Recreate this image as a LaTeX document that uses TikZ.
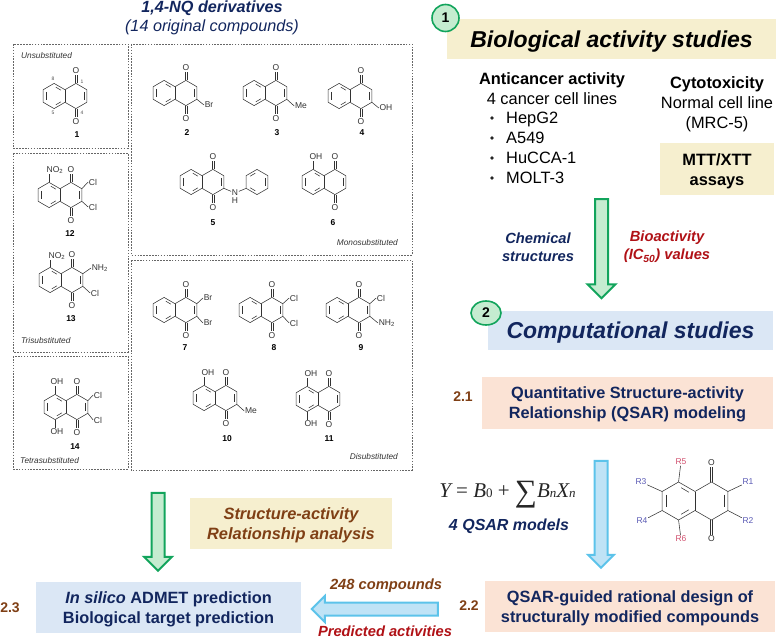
\documentclass[tikz,border=0pt]{standalone}
\usepackage{fontspec}
\setmainfont{Liberation Sans}
\newfontfamily\eqnfont{Liberation Serif}
\usetikzlibrary{positioning,shapes.arrows,shapes.geometric}
\definecolor{navytxt}{HTML}{12265E}
\definecolor{browntxt}{HTML}{7F3F15}
\definecolor{redtxt}{HTML}{B01116}
\definecolor{yellowbg}{HTML}{F6EFCF}
\definecolor{bluebg}{HTML}{DBE7F5}
\definecolor{peachbg}{HTML}{FBE3D5}
\definecolor{greenline}{HTML}{12A45C}
\definecolor{greenfill}{HTML}{C5ECD0}
\definecolor{blueline}{HTML}{5CC3EA}
\definecolor{bluefill}{HTML}{BFE3F6}
\definecolor{rblue}{HTML}{5A5AB4}
\definecolor{rpink}{HTML}{D0506E}
\newcommand{\nqbond}{12.6pt}
\newcommand{\eqnsub}[1]{{\fontsize{13}{14}\selectfont #1}}
\tikzset{
    bond/.style={draw=black!80, line width=0.55pt, line join=round},
    atom/.style={inner sep=0.6pt, text=black!80, font=\fontsize{8.5}{10}\selectfont},
    cpd/.style={inner sep=0pt, font=\fontsize{8.5}{10}\selectfont\bfseries},
    numlabel/.style={inner sep=0pt, text=black!70, font=\fontsize{5}{6}\selectfont},
    grouptag/.style={inner sep=0pt, text=black!80, font=\fontsize{8.3}{10}\selectfont\itshape},
    groupbox/.style={draw=black!60, line width=0.45pt, dash pattern=on 1.6pt off 1.3pt},
    plainbox/.style={inner sep=0pt, align=center},
    filledbox/.style={plainbox, text depth=-2pt},
    filledpair/.style={plainbox, text depth=-4pt},
    head/.style={text=navytxt, font=\fontsize{16.3}{20}\selectfont\bfseries},
    bodyline/.style={inner sep=0pt, text height=12pt, text depth=0pt, font=\fontsize{16.4}{20}\selectfont},
    bignum/.style={inner sep=0pt, text=browntxt, font=\fontsize{14}{16}\selectfont\bfseries},
    flowtag/.style={plainbox, font=\fontsize{14.7}{18}\selectfont\bfseries\itshape},
    stepmark/.style={draw=greenline, fill=greenfill, line width=1.6pt, inner sep=0pt,
        font=\fontsize{14}{16}\selectfont\bfseries},
    greenarrow/.style={single arrow, draw=greenline, fill=greenfill, line width=2pt, inner sep=0pt,
        inner ysep=5.5pt, single arrow head extend=7.5pt, minimum width=25pt},
    bluearrow/.style={single arrow, draw=blueline, fill=bluefill, line width=2pt, inner sep=0pt,
        inner ysep=5.5pt, single arrow head extend=6.5pt, minimum width=24pt},
    nqring/.pic={
        \begin{scope}[x=\nqbond, y=-\nqbond]
            \coordinate (-c2) at (1.732,-0.5);
            \coordinate (-c3) at (1.732,0.5);
            \coordinate (-c5) at (-0.866,1);
            \coordinate (-c6) at (-1.732,0.5);
            \coordinate (-c7) at (-1.732,-0.5);
            \coordinate (-c8) at (-0.866,-1);
            \draw[bond] (0,-0.5) -- (0.866,-1) -- (-c2) -- (-c3) -- (0.866,1) -- (0,0.5) -- (-c5) -- (-c6) -- (-c7) -- (-c8) -- cycle;
            \draw[bond] (0,-0.5) -- (0,0.5);
            % inner lines of the double bonds
            \draw[bond] (1.52,-0.33) -- (1.52,0.33);
            \draw[bond] (-1.52,-0.33) -- (-1.52,0.33);
            \draw[bond] (-0.73,-0.70) -- (-0.32,-0.46);
            \draw[bond] (-0.73,0.70) -- (-0.32,0.46);
            \node (-otop) [atom] at (0.866,-2) {O};
            \node (-obot) [atom] at (0.866,2) {O};
            \draw[bond] ([xshift=-1.1pt]0.866,-1) -- ([xshift=-1.1pt]-otop.south);
            \draw[bond] ([xshift=1.1pt]0.866,-1) -- ([xshift=1.1pt]-otop.south);
            \draw[bond] ([xshift=-1.1pt]0.866,1) -- ([xshift=-1.1pt]-obot.north);
            \draw[bond] ([xshift=1.1pt]0.866,1) -- ([xshift=1.1pt]-obot.north);
        \end{scope}
    }
}
\begin{document}
\begin{tikzpicture}[x=1pt, y=-1pt, node distance=19.8pt]
    \useasboundingbox (0,0) rectangle (776,639);

    % left column title
    \node (nqtitle) [plainbox, head, font=\fontsize{16.2}{20}\selectfont\bfseries\itshape] at (212,8.5) {1,4-NQ derivatives};
    \node (nqsub) [plainbox, head, font=\fontsize{16.2}{20}\selectfont\itshape] at (212,27) {(14 original compounds)};

    % compound groups
    \draw[groupbox] (13,44) rectangle (128,148);
    \draw[groupbox] (13,153) rectangle (128,352);
    \draw[groupbox] (13,356) rectangle (128,469);
    \draw[groupbox] (131,44) rectangle (412,255);
    \draw[groupbox] (131,260) rectangle (412,470);
    \node (tagun) [grouptag, anchor=west] at (21,56) {Unsubstituted};
    \node (tagtri) [grouptag, anchor=west] at (21,341) {Trisubstituted};
    \node (tagtetra) [grouptag, anchor=west] at (20,461) {Tetrasubstituted};
    \node (tagmono) [grouptag, anchor=east] at (398,243) {Monosubstituted};
    \node (tagdi) [grouptag, anchor=east] at (398,457) {Disubstituted};

    % 1
    \pic (m1) at (65,96) {nqring};
    \node (n8) [numlabel] at (53,79) {8};
    \node (n1) [numlabel] at (82,82) {1};
    \node (n5) [numlabel] at (53,113) {5};
    \node (n4) [numlabel] at (82,113) {4};
    \node (c1) [cpd] at (77,135) {1};

    % 2
    \pic (m2) at (175,93) {nqring};
    \node (m2br) [atom] at (209,105) {Br};
    \draw[bond] (m2-c3) -- (m2br.west);
    \node (c2) [cpd] at (187,133) {2};

    % 3
    \pic (m3) at (265,93) {nqring};
    \node (m3me) [atom] at (301,106) {Me};
    \draw[bond] (m3-c3) -- (m3me.west);
    \node (c3) [cpd] at (277,133) {3};

    % 4
    \pic (m4) at (350,96) {nqring};
    \node (m4oh) [atom] at (386,108) {OH};
    \draw[bond] (m4-c3) -- (m4oh.west);
    \node (c4) [cpd] at (362,133) {4};

    % 5
    \pic (m5) at (202,182) {nqring};
    \node (m5n) [atom] at (235,193) {N};
    \node (m5h) [atom, below=0.5pt of m5n] {H};
    \node (m5ph) [regular polygon, regular polygon sides=6, shape border rotate=30, minimum size=25.2pt, inner sep=0pt, bond] at (257,182) {};
    \draw[bond] (m5-c3) -- (m5n);
    \draw[bond] (m5ph.210) -- (m5n);
    \draw[bond] (250.1,176.2) -- (255.3,173.2);
    \draw[bond] (265.2,178) -- (265.2,186);
    \draw[bond] (250.1,187.8) -- (255.3,190.8);
    \node (c5) [cpd] at (213,223) {5};

    % 6
    \pic (m6) at (324,182) {nqring};
    \node (m6oh) [atom] at (316,157) {OH};
    \draw[bond] (m6-c8) -- (m6oh.south -| m6-c8);
    \node (c6) [cpd] at (333,223) {6};

    % 7
    \pic (m7) at (175,310) {nqring};
    \node (m7a) [atom] at (208,298) {Br};
    \node (m7b) [atom] at (208,323) {Br};
    \draw[bond] (m7-c2) -- (m7a.west);
    \draw[bond] (m7-c3) -- (m7b.west);
    \node (c7) [cpd] at (185,348) {7};

    % 8
    \pic (m8) at (261,310) {nqring};
    \node (m8a) [atom] at (294,298) {Cl};
    \node (m8b) [atom] at (294,323) {Cl};
    \draw[bond] (m8-c2) -- (m8a.west);
    \draw[bond] (m8-c3) -- (m8b.west);
    \node (c8) [cpd] at (274,348) {8};

    % 9
    \pic (m9) at (348,310) {nqring};
    \node (m9a) [atom] at (381,298) {Cl};
    \node (m9b) [atom, anchor=west] at (378,323) {NH\textsubscript{2}};
    \draw[bond] (m9-c2) -- (m9a.west);
    \draw[bond] (m9-c3) -- (m9b.west);
    \node (c9) [cpd] at (361,348) {9};

    % 10
    \pic (m10) at (215,398) {nqring};
    \node (m10oh) [atom] at (208,373) {OH};
    \node (m10me) [atom] at (251,411) {Me};
    \draw[bond] (m10-c8) -- (m10oh.south -| m10-c8);
    \draw[bond] (m10-c3) -- (m10me.west);
    \node (c10) [cpd] at (227,439) {10};

    % 11
    \pic (m11) at (318,399) {nqring};
    \node (m11a) [atom] at (311,374) {OH};
    \node (m11b) [atom] at (311,424) {OH};
    \draw[bond] (m11-c8) -- (m11a.south -| m11-c8);
    \draw[bond] (m11-c5) -- (m11b.north -| m11-c5);
    \node (c11) [cpd] at (329,439) {11};

    % 12
    \pic (m12) at (60,195) {nqring};
    \node (m12no) [atom] at (55,170) {NO\textsubscript{2}};
    \node (m12a) [atom] at (93,182) {Cl};
    \node (m12b) [atom] at (93,207) {Cl};
    \draw[bond] (m12-c8) -- (m12no.south -| m12-c8);
    \draw[bond] (m12-c2) -- (m12a.west);
    \draw[bond] (m12-c3) -- (m12b.west);
    \node (c12) [cpd] at (70,234) {12};

    % 13
    \pic (m13) at (61,280) {nqring};
    \node (m13no) [atom] at (57,256) {NO\textsubscript{2}};
    \node (m13a) [atom, anchor=west] at (91,268) {NH\textsubscript{2}};
    \node (m13b) [atom] at (95,293) {Cl};
    \draw[bond] (m13-c8) -- (m13no.south -| m13-c8);
    \draw[bond] (m13-c2) -- (m13a.west);
    \draw[bond] (m13-c3) -- (m13b.west);
    \node (c13) [cpd] at (71,319) {13};

    % 14
    \pic (m14) at (66,407) {nqring};
    \node (m14a) [atom] at (57,382) {OH};
    \node (m14b) [atom] at (57,432) {OH};
    \node (m14c) [atom] at (98,395) {Cl};
    \node (m14d) [atom] at (98,420) {Cl};
    \draw[bond] (m14-c8) -- (m14a.south -| m14-c8);
    \draw[bond] (m14-c5) -- (m14b.north -| m14-c5);
    \draw[bond] (m14-c2) -- (m14c.west);
    \draw[bond] (m14-c3) -- (m14d.west);
    \node (c14) [cpd] at (75,447) {14};

    % section 1
    \node (bio) [filledbox, fill=yellowbg, minimum width=329pt, minimum height=40pt,
        font=\fontsize{23}{26}\selectfont\bfseries\itshape] at (611.5,39) {Biological activity studies};
    \node (mark1) [stepmark, circle, minimum size=27pt] at (445.5,18) {1};

    \node (anti) [bodyline, font=\fontsize{16.4}{20}\selectfont\bfseries] at (552,79) {Anticancer activity};
    \node (lines) [bodyline, below of=anti] {4 cancer cell lines};
    \node (hep) [bodyline, anchor=west] at (506,118) {HepG2};
    \node (a549) [bodyline, anchor=west] at (506,138) {A549};
    \node (hucca) [bodyline, anchor=west] at (506,158) {HuCCA-1};
    \node (molt) [bodyline, anchor=west] at (506,178) {MOLT-3};
    \foreach \row/\rowy in {hep/118,a549/138,hucca/158,molt/178}
        \node (dot\row) [circle, fill=black!85, inner sep=0pt, minimum size=3.6pt] at (492,\rowy) {};

    \node (cyto) [bodyline, font=\fontsize{16.4}{20}\selectfont\bfseries] at (717,83) {Cytotoxicity};
    \node (normal) [bodyline, below of=cyto] {Normal cell line};
    \node (mrc) [bodyline, below of=normal] {(MRC-5)};
    \node (mtt) [filledpair, font=\fontsize{16.4}{20}\selectfont\bfseries, fill=yellowbg, minimum width=114pt, minimum height=52pt] at (717,169.5) {MTT/XTT\\assays};

    \node (arrowbio) [greenarrow, rotate=-90, minimum height=99pt] at (601.5,245.5) {};
    \node (chem) [flowtag, text=navytxt] at (538,247) {Chemical\\structures};
    \node (bioact) [flowtag, text=redtxt] at (667,247) {Bioactivity\\(IC\textsubscript{50}) values};

    % section 2
    \node (comp) [filledbox, fill=bluebg, minimum width=285pt, minimum height=39pt, text=navytxt,
        font=\fontsize{23}{26}\selectfont\bfseries\itshape] at (630.5,330.5) {Computational studies};
    \node (mark2) [stepmark, ellipse, minimum width=30pt, minimum height=24pt] at (486,313) {2};

    \node (qsar) [filledpair, head, fill=peachbg, minimum width=291pt, minimum height=52pt] at (627.5,403) {Quantitative Structure-activity\\Relationship (QSAR) modeling};
    \node (num21) [bignum] at (463,397) {2.1};

    \node (eqn) [inner sep=0pt, text=black!85, font=\fontsize{21}{24}\selectfont\eqnfont] at (507.5,494.5) {{\itshape Y} = {\itshape B}\eqnsub{0} + \raisebox{-3.5pt}{\fontsize{31}{31}\selectfont ∑}{\itshape B\eqnsub{n}X\eqnsub{n}}};
    \node (models) [flowtag, text=navytxt, font=\fontsize{16}{20}\selectfont\bfseries\itshape] at (509,526) {4 QSAR models};

    \node (arrowqsar) [bluearrow, rotate=-90, minimum height=107pt] at (601,511) {};

    % general structure
    \renewcommand{\nqbond}{19pt}
    \pic (core) at (695,501) {nqring};
    \node (r1) [atom, text=rblue] at (748,482) {R1};
    \node (r2) [atom, text=rblue] at (748,521) {R2};
    \node (r3) [atom, text=rblue] at (641,482) {R3};
    \node (r4) [atom, text=rblue] at (642,521) {R4};
    \node (r5) [atom, text=rpink] at (681,462) {R5};
    \node (r6) [atom, text=rpink] at (681,539) {R6};
    \draw[bond] (core-c2) -- (r1);
    \draw[bond] (core-c3) -- (r2);
    \draw[bond] (core-c7) -- (r3);
    \draw[bond] (core-c6) -- (r4);
    \draw[bond] (core-c8) -- (r5);
    \draw[bond] (core-c5) -- (r6);

    \node (design) [filledpair, head, fill=peachbg, minimum width=290pt, minimum height=51pt] at (630,606.5) {QSAR-guided rational design of\\structurally modified compounds};
    \node (num22) [bignum] at (469,606) {2.2};

    % bottom left
    \node (arrowsar) [greenarrow, rotate=-90, minimum height=78pt] at (158,528.5) {};
    \node (sar) [filledpair, fill=yellowbg, text=browntxt, minimum width=202pt, minimum height=51pt,
        font=\fontsize{16.4}{20}\selectfont\bfseries\itshape] at (291,523.5) {Structure-activity\\Relationship analysis};
    \node (admet) [filledpair, head, fill=bluebg, minimum width=265pt, minimum height=51pt] at (168.5,607.5) {{\itshape In silico} ADMET prediction\\Biological target prediction};
    \node (num23) [bignum] at (10,608) {2.3};
    \node (arrowpred) [bluearrow, rotate=180, minimum height=126pt] at (378,609) {};
    \node (cpds) [flowtag, text=browntxt] at (386,586) {248 compounds};
    \node (predicted) [flowtag, text=redtxt] at (385,631) {Predicted activities};
\end{tikzpicture}
\end{document}
